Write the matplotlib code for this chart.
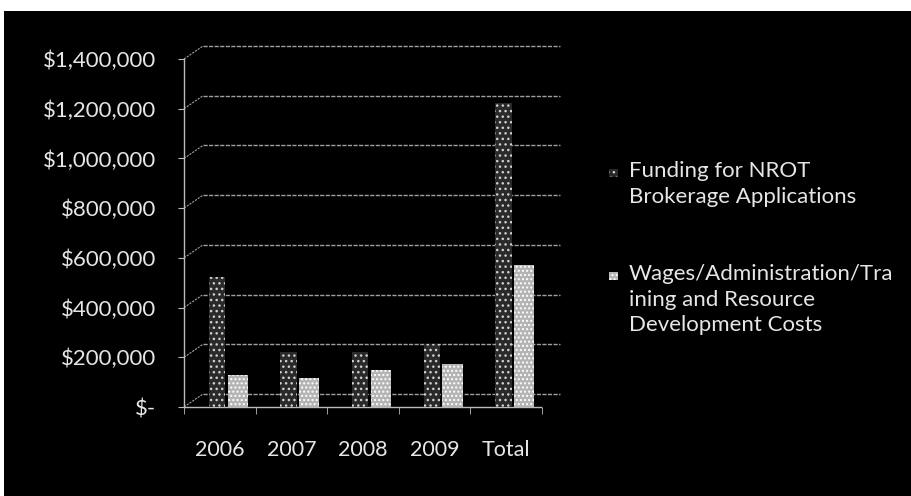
import matplotlib
matplotlib.use("Agg")
import matplotlib.pyplot as plt
import matplotlib.transforms as mtransforms
from matplotlib.patches import Rectangle
import numpy as np

categories = ["2006", "2007", "2008", "2009", "Total"]
funding = [525000, 220000, 220000, 255000, 1225000]
wages = [130000, 115000, 150000, 175000, 570000]
yticks = [0, 200000, 400000, 600000, 800000, 1000000, 1200000, 1400000]
ytick_labels = ["$-", "$200,000", "$400,000", "$600,000", "$800,000",
                "$1,000,000", "$1,200,000", "$1,400,000"]
legend_labels = ["Funding for NROT\nBrokerage Applications",
                 "Wages/Administration/Tra\nining and Resource\nDevelopment Costs"]

W, H = 911, 496
DPI = 100
plt.rcParams['font.family'] = ['Lato', 'DejaVu Sans']
plt.rcParams['hatch.linewidth'] = 1.0
TXT = '#e6e6e6'
GRID = '#a0a0a0'
F_FACE, F_HATCH = '#2a2a2a', '#d0d0d0'
W_FACE, W_HATCH = '#b4b4b4', '#ffffff'

fig = plt.figure(figsize=(W / DPI, H / DPI), dpi=DPI, facecolor='white')
fig.add_artist(Rectangle((4 / W, 0), 1, 1 - 11 / H, transform=fig.transFigure,
                         facecolor='black', edgecolor='none', zorder=0))

def px(x0, y0, x1, y1):
    return [x0 / W, 1 - y1 / H, (x1 - x0) / W, (y1 - y0) / H]

ax = fig.add_axes(px(184, 59, 560, 407))
ax.patch.set_visible(False)
x = np.arange(len(categories))
catw = 71.6
ax.set_xlim(-0.5, -0.5 + (560 - 184) / catw)
ax.set_ylim(0, 1400000)

# back-wall gridlines (3D offset)
off = mtransforms.offset_copy(ax.transData, fig=fig, x=19, y=13, units='dots')
for v in yticks:
    ax.plot([-0.5, -0.5 + (560 - 203) / catw], [v, v], transform=off,
            color=GRID, lw=1.0, ls=(0, (3, 1)), zorder=1, clip_on=False)

for v in yticks:
    t0 = ax.transData.transform((-0.5, v))
    ax.plot([t0[0], t0[0] + 19], [t0[1], t0[1] + 13], transform=None,
            color=GRID, lw=0.8, ls=(0, (2, 1)), zorder=1, clip_on=False)

ax.bar(x - 0.04, funding, width=0.23, facecolor=F_FACE, edgecolor=F_HATCH,
       hatch='...', lw=0, zorder=3)
ax.bar(x + 0.25, wages, width=0.28, facecolor=W_FACE, edgecolor=W_HATCH,
       hatch='....', lw=0, zorder=3)

ax.set_yticks(yticks)
ax.set_yticklabels(ytick_labels)
ax.set_xticks(x)
ax.set_xticklabels(categories)
ax.set_xticks(np.arange(-0.5, 5.0, 1.0), minor=True)
ax.tick_params(axis='x', which='major', length=0, pad=24, labelsize=15.5, labelcolor=TXT)
ax.tick_params(axis='x', which='minor', length=5, color='#bbbbbb', direction='out')
ax.tick_params(axis='y', length=4, color='#bbbbbb', pad=16, labelsize=16, labelcolor=TXT)
for s in ['top', 'right']:
    ax.spines[s].set_visible(False)
for s in ['left', 'bottom']:
    ax.spines[s].set_color('#bbbbbb')
    ax.spines[s].set_linestyle((0, (1, 1)))
    ax.spines[s].set_linewidth(1.0)
ax.spines['bottom'].set_bounds(-0.5, 4.5)

# legend
fs = 16
fig.text(629 / W, 1 - 161 / H, legend_labels[0], color=TXT, fontsize=fs,
         ha='left', va='top', linespacing=1.35)
fig.text(629 / W, 1 - 264 / H, legend_labels[1], color=TXT, fontsize=fs,
         ha='left', va='top', linespacing=1.35)
fig.add_artist(Rectangle((609 / W, 1 - 177 / H), 9 / W, 8 / H, transform=fig.transFigure,
                         facecolor=F_FACE, edgecolor=F_HATCH, hatch='...', lw=0))
fig.add_artist(Rectangle((609 / W, 1 - 280 / H), 9 / W, 8 / H, transform=fig.transFigure,
                         facecolor=W_FACE, edgecolor=W_HATCH, hatch='....', lw=0))

fig.savefig('out.png', dpi=DPI, facecolor='white')
